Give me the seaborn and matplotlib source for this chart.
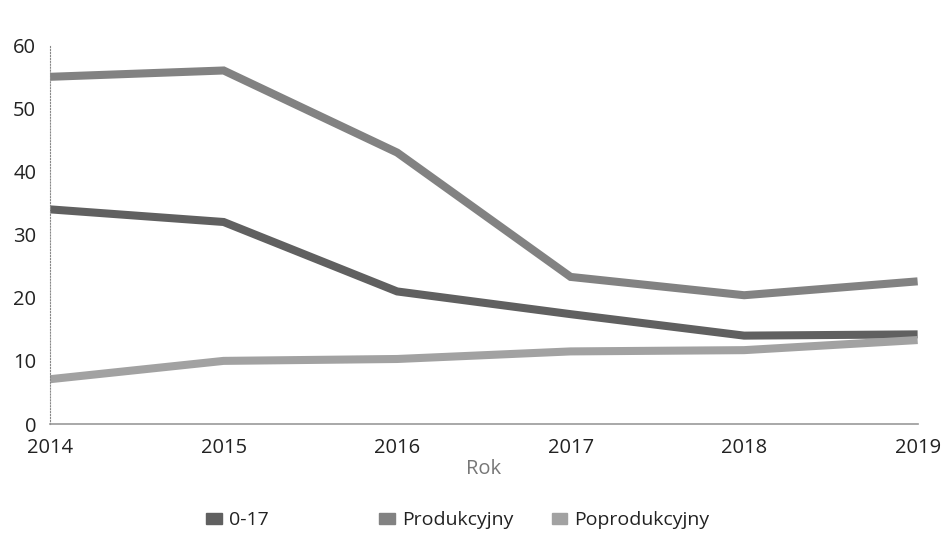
import pandas as pd
import matplotlib
matplotlib.use('Agg')
import matplotlib.pyplot as plt
import seaborn as sns
from matplotlib.patches import Patch

lata = [2014, 2015, 2016, 2017, 2018, 2019]
grupa_0_17 = [34, 32, 21, 17.4, 14, 14.2]
produkcyjny = [55, 56, 43, 23.3, 20.4, 22.6]
poprodukcyjny = [7.1, 10, 10.3, 11.5, 11.7, 13.3]
serie = ['0-17', 'Produkcyjny', 'Poprodukcyjny']
kolory = ['#606060', '#828282', '#a2a2a2']

sns.set_style('white')
plt.rcParams['font.family'] = ['Open Sans', 'DejaVu Sans']

df = pd.DataFrame({'Rok': lata, '0-17': grupa_0_17,
                   'Produkcyjny': produkcyjny, 'Poprodukcyjny': poprodukcyjny})
long_df = df.melt(id_vars='Rok', var_name='Grupa', value_name='Wartosc')

fig = plt.figure(figsize=(9.46, 5.45), dpi=100)
ax = fig.add_axes([0.053, 0.222, 0.917, 0.695])

sns.lineplot(data=long_df, x='Rok', y='Wartosc', hue='Grupa', hue_order=serie,
             palette=kolory, linewidth=5.8, legend=False, ax=ax,
             solid_capstyle='butt', solid_joinstyle='miter')

ax.set_xlim(2014, 2019)
ax.set_ylim(0, 60)
ax.set_xticks(lata)
ax.set_yticks(range(0, 61, 10))
ax.tick_params(axis='both', length=0, labelsize=14.5, colors='#222222')
ax.tick_params(axis='x', pad=10)
ax.tick_params(axis='y', pad=10)

ax.set_xlabel('Rok', fontsize=14.5, color='#777777', labelpad=1)
ax.set_ylabel('')

for s in ['top', 'right']:
    ax.spines[s].set_visible(False)
ax.spines['left'].set_linestyle(':')
ax.spines['left'].set_color('#888888')
ax.spines['left'].set_linewidth(0.8)
ax.spines['bottom'].set_color('#999999')
ax.spines['bottom'].set_linewidth(1.2)

# legend entries in fixed-width slots, like the original
slot_x = [0.218, 0.401, 0.583]
for nazwa, kolor, x0 in zip(serie, kolory, slot_x):
    leg = fig.legend([Patch(facecolor=kolor, edgecolor=kolor)], [nazwa],
                     loc='center left', bbox_to_anchor=(x0, 0.045),
                     frameon=False, fontsize=14, handlelength=0.8,
                     handleheight=0.55, handletextpad=0.35, borderpad=0,
                     borderaxespad=0)
    leg.get_texts()[0].set_color('#222222')

fig.savefig('out.png', dpi=100)
